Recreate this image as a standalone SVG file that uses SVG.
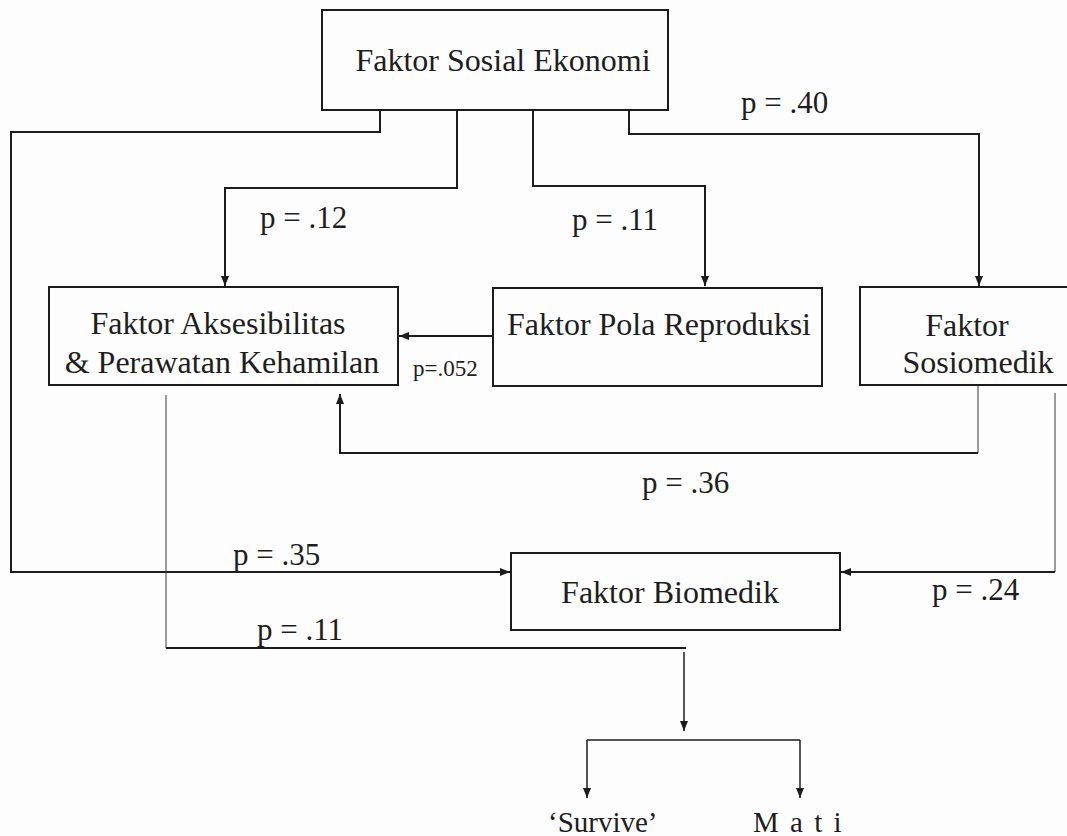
<svg xmlns="http://www.w3.org/2000/svg" width="1067" height="836" viewBox="0 0 1067 836">
  <style>
    .box { fill: none; stroke: #1c1c1c; stroke-width: 2; }
    .lbl { font-family: "Liberation Serif", "Times New Roman", serif; fill: #1e1e1e; }
    .node { font-size: 32px; text-anchor: middle; }
    .p { font-size: 31px; }
    .ps { font-size: 23px; }
    .out { font-size: 29px; }
    .ln { fill: none; stroke: #1c1c1c; stroke-width: 2; }
    .thin { fill: none; stroke: #3a3a3a; stroke-width: 1; }
    .arr { marker-end: url(#head); }
  </style>
  <defs>
    <marker id="head" viewBox="0 0 10 8" refX="10" refY="4" markerWidth="10" markerHeight="8" markerUnits="userSpaceOnUse" orient="auto">
      <path d="M0,0 L10,4 L0,8 Z" fill="#1c1c1c"/>
    </marker>
  </defs>

  <rect width="1067" height="836" fill="#fdfdfd"/>

  <!-- connectors -->
  <g id="connectors">
    <path class="ln arr" d="M380,110 V132 H11 V572 H510"/>
    <path class="ln arr" d="M457,110 V188 H225 V286"/>
    <path class="ln arr" d="M533,110 V186 H705 V286"/>
    <path class="ln arr" d="M629,110 V134 H979 V286"/>
    <path class="ln arr" d="M493,336 H399"/>
    <path class="thin" d="M978,386 V453"/>
    <path class="ln arr" d="M978,453 H340 V394"/>
    <path class="thin" d="M1055,393 V572"/>
    <path class="ln arr" d="M1055,572 H841"/>
    <path class="thin" d="M166,395 V648"/>
    <path class="ln" d="M166,648 H686"/>
    <path class="ln arr" d="M684,652 V731" style="stroke-width:1.5"/>
    <path class="ln" d="M587,740 H800" style="stroke-width:1.5"/>
    <path class="ln arr" d="M587,740 V798" style="stroke-width:1.5"/>
    <path class="ln arr" d="M800,740 V798" style="stroke-width:1.5"/>

    <text class="lbl p" x="260" y="228">p = .12</text>
    <text class="lbl p" x="572" y="230">p = .11</text>
    <text class="lbl p" x="741" y="113">p = .40</text>
    <text class="lbl ps" x="413" y="376">p=.052</text>
    <text class="lbl p" x="642" y="493">p = .36</text>
    <text class="lbl p" x="233" y="565">p = .35</text>
    <text class="lbl p" x="932" y="600">p = .24</text>
    <text class="lbl p" x="257" y="640">p = .11</text>
  </g>

  <g id="sosial-ekonomi">
    <rect class="box" x="322" y="10" width="346" height="100"/>
    <text class="lbl node" x="503" y="71">Faktor Sosial Ekonomi</text>
  </g>

  <g id="aksesibilitas">
    <rect class="box" x="49" y="287" width="349" height="98"/>
    <text class="lbl node" x="218" y="334">Faktor Aksesibilitas</text>
    <text class="lbl node" x="222" y="373">&amp; Perawatan Kehamilan</text>
  </g>

  <g id="pola-reproduksi">
    <rect class="box" x="493" y="288" width="329" height="98"/>
    <text class="lbl node" x="659" y="335">Faktor Pola Reproduksi</text>
  </g>

  <g id="sosiomedik">
    <rect class="box" x="860" y="287" width="212" height="98"/>
    <text class="lbl node" x="967" y="336">Faktor</text>
    <text class="lbl node" x="978" y="373">Sosiomedik</text>
  </g>

  <g id="biomedik">
    <rect class="box" x="511" y="553" width="329" height="77"/>
    <text class="lbl node" x="670" y="603">Faktor Biomedik</text>
  </g>

  <g id="survive">
    <text class="lbl out" x="548" y="832">‘Survive’</text>
  </g>

  <g id="mati">
    <text class="lbl out" x="753" y="832" letter-spacing="2">M a t i</text>
  </g>
</svg>
